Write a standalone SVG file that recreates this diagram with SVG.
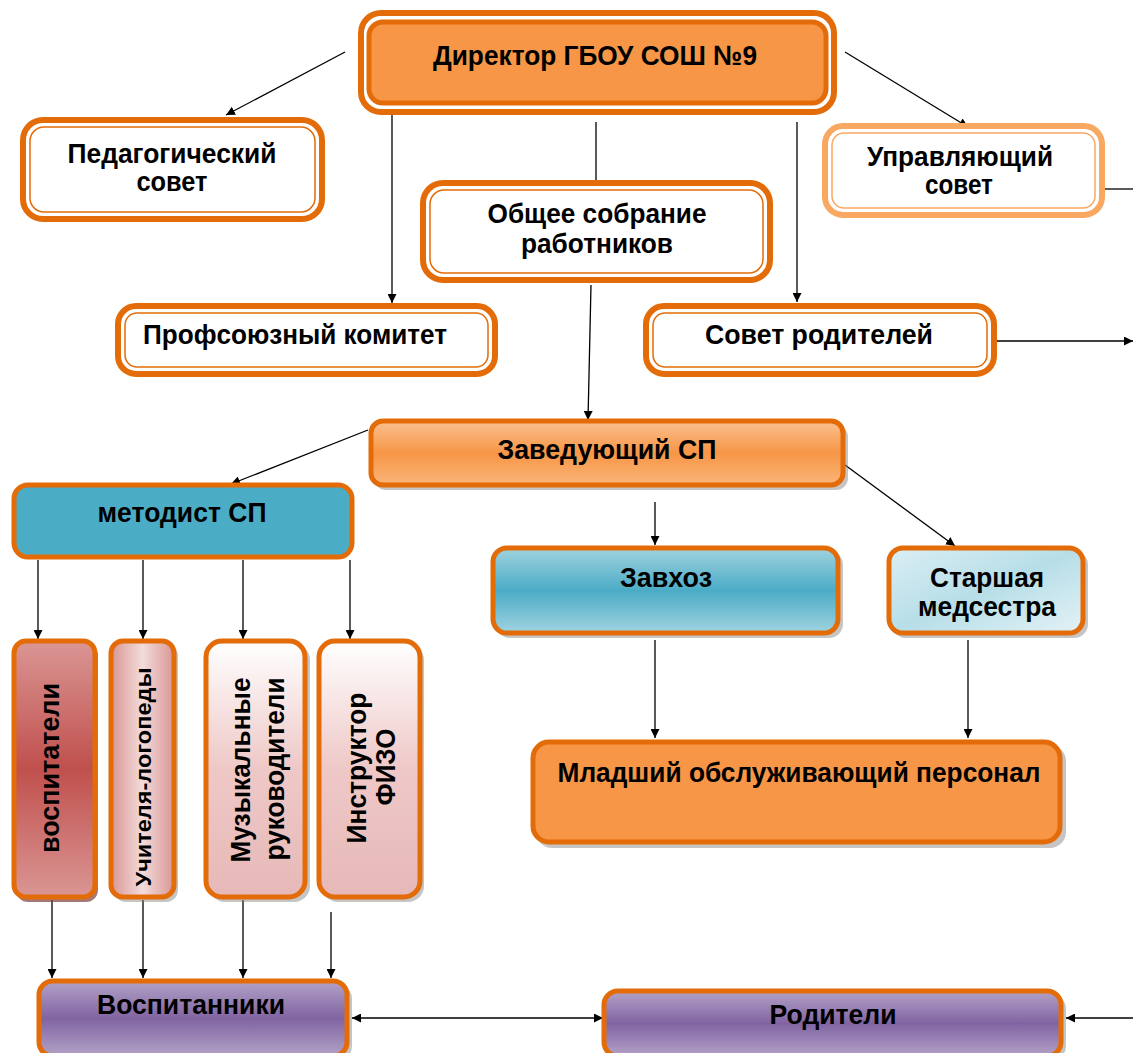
<svg xmlns="http://www.w3.org/2000/svg" width="1133" height="1053" viewBox="0 0 1133 1053">
<defs>
<style>
.t{font-family:"Liberation Sans",Arial,sans-serif;font-weight:bold;font-size:28px;fill:#000;text-anchor:middle}
.s{font-size:22px}
.ln{stroke:#000;stroke-width:1.3;fill:none}
.ob{fill:#fff;stroke:#e36c09;stroke-width:6}
.ib{fill:none;stroke:#e36c09;stroke-width:1.5}
.ob2{fill:#fff;stroke:#f9a861;stroke-width:6}
.ib2{fill:none;stroke:#f9a861;stroke-width:1.5}
.g{stroke:#e36c09;stroke-width:5}
.sh{fill:#7f7f7f;opacity:0.45}
</style>
<marker id="a" viewBox="0 0 10 10" refX="10" refY="5" markerWidth="9" markerHeight="9" orient="auto-start-reverse" markerUnits="userSpaceOnUse"><path d="M0,0 L10,5 L0,10 z" fill="#000"/></marker>
<linearGradient id="gOr" x1="0" y1="0" x2="0" y2="1"><stop offset="0" stop-color="#fac090"/><stop offset="0.5" stop-color="#f79646"/><stop offset="1" stop-color="#fab57a"/></linearGradient>
<linearGradient id="gBl" x1="0" y1="0" x2="0" y2="1"><stop offset="0" stop-color="#a0d3e0"/><stop offset="0.5" stop-color="#4bacc6"/><stop offset="1" stop-color="#a0d3e0"/></linearGradient>
<linearGradient id="gLb" x1="0" y1="0" x2="1" y2="1"><stop offset="0" stop-color="#dbeef4"/><stop offset="0.5" stop-color="#b7dee8"/><stop offset="1" stop-color="#e4f2f6"/></linearGradient>
<linearGradient id="gRd" x1="0" y1="0" x2="0" y2="1"><stop offset="0" stop-color="#da9694"/><stop offset="0.5" stop-color="#c0504d"/><stop offset="1" stop-color="#da9694"/></linearGradient>
<linearGradient id="gPk" x1="0" y1="0" x2="1" y2="0"><stop offset="0" stop-color="#d99694"/><stop offset="0.5" stop-color="#f2dcdb"/><stop offset="1" stop-color="#d99694"/></linearGradient>
<linearGradient id="gWp" x1="0" y1="0" x2="0" y2="1"><stop offset="0" stop-color="#ffffff"/><stop offset="0.5" stop-color="#eec8c7"/><stop offset="1" stop-color="#e6b9b8"/></linearGradient>
<linearGradient id="gPu" x1="0" y1="0" x2="0" y2="1"><stop offset="0" stop-color="#b3a2c7"/><stop offset="0.5" stop-color="#8064a2"/><stop offset="1" stop-color="#b3a2c7"/></linearGradient>
</defs>
<rect width="1133" height="1053" fill="#fff"/>

<g id="connectors">
<line class="ln" x1="345" y1="52" x2="226" y2="115" marker-end="url(#a)"/>
<line class="ln" x1="845" y1="52" x2="968" y2="127" marker-end="url(#a)"/>
<line class="ln" x1="392" y1="115" x2="392" y2="303" marker-end="url(#a)"/>
<line class="ln" x1="596" y1="122" x2="596" y2="182"/>
<line class="ln" x1="797" y1="122" x2="797" y2="302" marker-end="url(#a)"/>
<line class="ln" x1="1105" y1="189" x2="1133" y2="189"/>
<line class="ln" x1="997" y1="341" x2="1133" y2="341" marker-end="url(#a)"/>
<line class="ln" x1="591" y1="285" x2="588" y2="420" marker-end="url(#a)"/>
<line class="ln" x1="368" y1="430" x2="231" y2="484" marker-end="url(#a)"/>
<line class="ln" x1="655" y1="502" x2="655" y2="545" marker-end="url(#a)"/>
<line class="ln" x1="845" y1="465" x2="955" y2="546" marker-end="url(#a)"/>
<line class="ln" x1="655" y1="640" x2="655" y2="738" marker-end="url(#a)"/>
<line class="ln" x1="968" y1="640" x2="968" y2="738" marker-end="url(#a)"/>
<line class="ln" x1="38" y1="560" x2="38" y2="639" marker-end="url(#a)"/>
<line class="ln" x1="143" y1="560" x2="143" y2="639" marker-end="url(#a)"/>
<line class="ln" x1="243" y1="560" x2="243" y2="639" marker-end="url(#a)"/>
<line class="ln" x1="350" y1="560" x2="350" y2="639" marker-end="url(#a)"/>
<line class="ln" x1="52" y1="900" x2="52" y2="978" marker-end="url(#a)"/>
<line class="ln" x1="143" y1="900" x2="143" y2="978" marker-end="url(#a)"/>
<line class="ln" x1="243" y1="900" x2="243" y2="978" marker-end="url(#a)"/>
<line class="ln" x1="331" y1="912" x2="331" y2="978" marker-end="url(#a)"/>
<line class="ln" x1="352" y1="1018" x2="603" y2="1018" marker-start="url(#a)" marker-end="url(#a)"/>
<line class="ln" x1="1133" y1="1018" x2="1066" y2="1018" marker-end="url(#a)"/>
</g>

<g id="director">
<rect x="361" y="13" width="473" height="99" rx="20" fill="#fff" stroke="#e36c09" stroke-width="6"/>
<rect x="369" y="22" width="457" height="81" rx="14" fill="#f79646" stroke="#e36c09" stroke-width="5"/>
<text class="t" x="595" y="65" textLength="324" lengthAdjust="spacingAndGlyphs">Директор ГБОУ СОШ №9</text>
</g>

<g id="ped-sovet">
<rect class="ob" x="23" y="120" width="299" height="99" rx="20"/>
<rect class="ib" x="30" y="127" width="285" height="85" rx="14"/>
<text class="t" x="172" y="163" textLength="209" lengthAdjust="spacingAndGlyphs">Педагогический</text>
<text class="t" x="172" y="191" textLength="71" lengthAdjust="spacingAndGlyphs">совет</text>
</g>

<g id="upr-sovet">
<rect class="ob2" x="825" y="126" width="277" height="89" rx="18"/>
<rect class="ib2" x="832" y="133" width="263" height="75" rx="12"/>
<text class="t" x="960" y="166" textLength="186" lengthAdjust="spacingAndGlyphs">Управляющий</text>
<text class="t" x="959" y="194" textLength="68" lengthAdjust="spacingAndGlyphs">совет</text>
</g>

<g id="obshchee">
<rect class="ob" x="423" y="183" width="347" height="97" rx="20"/>
<rect class="ib" x="430" y="190" width="333" height="83" rx="14"/>
<text class="t" x="597" y="223" textLength="219" lengthAdjust="spacingAndGlyphs">Общее собрание</text>
<text class="t" x="597" y="253" textLength="152" lengthAdjust="spacingAndGlyphs">работников</text>
</g>

<g id="profsoyuz">
<rect class="ob" x="118" y="306" width="377" height="68" rx="18"/>
<rect class="ib" x="125" y="313" width="363" height="54" rx="12"/>
<text class="t" x="295" y="344" textLength="304" lengthAdjust="spacingAndGlyphs">Профсоюзный комитет</text>
</g>

<g id="sovet-roditeley">
<rect class="ob" x="646" y="306" width="348" height="68" rx="18"/>
<rect class="ib" x="653" y="313" width="334" height="54" rx="12"/>
<text class="t" x="819" y="344" textLength="228" lengthAdjust="spacingAndGlyphs">Совет родителей</text>
</g>

<g id="zaveduyushchiy">
<rect class="sh" x="374" y="425" width="474" height="65" rx="12"/>
<rect class="g" x="371" y="421" width="472" height="64" rx="12" fill="url(#gOr)"/>
<text class="t" x="607" y="459" textLength="219" lengthAdjust="spacingAndGlyphs">Заведующий СП</text>
</g>

<g id="metodist">
<rect class="g" x="14" y="485" width="338" height="72" rx="14" fill="#4bacc6"/>
<text class="t" x="182" y="522" textLength="169" lengthAdjust="spacingAndGlyphs">методист СП</text>
</g>

<g id="zavhoz">
<rect class="sh" x="496" y="551" width="347" height="87" rx="14"/>
<rect class="g" x="493" y="548" width="345" height="85" rx="14" fill="url(#gBl)"/>
<text class="t" x="666" y="587" textLength="92" lengthAdjust="spacingAndGlyphs">Завхоз</text>
</g>

<g id="medsestra">
<rect class="sh" x="892" y="551" width="196" height="87" rx="14"/>
<rect class="g" x="889" y="548" width="194" height="85" rx="14" fill="url(#gLb)"/>
<text class="t" x="987" y="587" textLength="114" lengthAdjust="spacingAndGlyphs">Старшая</text>
<text class="t" x="987" y="616" textLength="138" lengthAdjust="spacingAndGlyphs">медсестра</text>
</g>

<g id="mladshiy">
<rect class="sh" x="536" y="745" width="530" height="103" rx="16"/>
<rect class="g" x="533" y="742" width="527" height="100" rx="16" fill="#f79646"/>
<text class="t" x="799" y="782" textLength="483" lengthAdjust="spacingAndGlyphs">Младший обслуживающий персонал</text>
</g>

<g id="vospitateli">
<rect x="16" y="644" width="82" height="258" rx="12" fill="#7f3f3e" opacity="0.7"/>
<rect class="g" x="14" y="641" width="81" height="256" rx="12" fill="url(#gRd)"/>
<text class="t" transform="translate(59,768) rotate(-90)" textLength="170" lengthAdjust="spacingAndGlyphs">воспитатели</text>
</g>

<g id="logopedy">
<rect class="sh" x="114" y="644" width="64" height="258" rx="12"/>
<rect class="g" x="111" y="641" width="63" height="256" rx="12" fill="url(#gPk)"/>
<text class="t s" transform="translate(151,777) rotate(-90)" textLength="219" lengthAdjust="spacingAndGlyphs">Учителя-логопеды</text>
</g>

<g id="muzykalnye">
<rect class="sh" x="209" y="644" width="101" height="258" rx="16"/>
<rect class="g" x="206" y="641" width="99" height="256" rx="16" fill="url(#gWp)"/>
<text class="t" transform="translate(250,770) rotate(-90)" textLength="185" lengthAdjust="spacingAndGlyphs">Музыкальные</text>
<text class="t" transform="translate(284,769) rotate(-90)" textLength="183" lengthAdjust="spacingAndGlyphs">руководители</text>
</g>

<g id="instruktor">
<rect class="sh" x="322" y="644" width="102" height="258" rx="16"/>
<rect class="g" x="319" y="641" width="101" height="256" rx="16" fill="url(#gWp)"/>
<text class="t" transform="translate(366,768) rotate(-90)" textLength="151" lengthAdjust="spacingAndGlyphs">Инструктор</text>
<text class="t" transform="translate(395,767) rotate(-90)" textLength="77" lengthAdjust="spacingAndGlyphs">ФИЗО</text>
</g>

<g id="vospitanniki">
<rect class="sh" x="42" y="985" width="310" height="75" rx="14"/>
<rect class="g" x="39" y="981" width="308" height="75" rx="14" fill="url(#gPu)"/>
<text class="t" x="191" y="1014" textLength="188" lengthAdjust="spacingAndGlyphs">Воспитанники</text>
</g>

<g id="roditeli">
<rect class="sh" x="607" y="995" width="459" height="65" rx="14"/>
<rect class="g" x="604" y="991" width="457" height="65" rx="14" fill="url(#gPu)"/>
<text class="t" x="833" y="1024" textLength="127" lengthAdjust="spacingAndGlyphs">Родители</text>
</g>
</svg>
